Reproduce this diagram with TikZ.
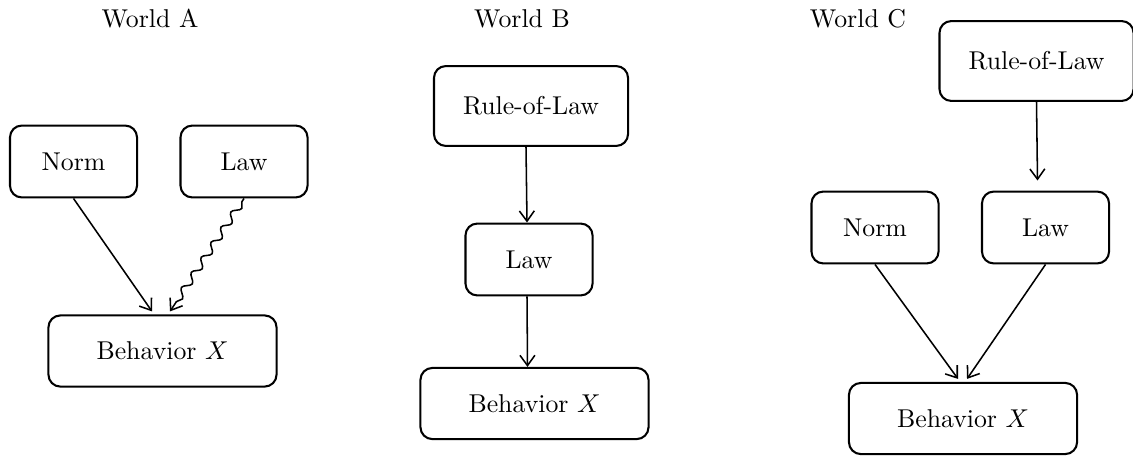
\documentclass[tikz,border=0pt]{standalone}
\usepackage{tikz}
\usetikzlibrary{arrows.meta, positioning, calc, decorations.pathmorphing}
\usepackage{amsmath}

\begin{document}
\begin{tikzpicture}[x=0.388pt,y=0.388pt,yscale=-1,xscale=1,
  box/.style={draw, line width=0.8pt, rounded corners=4.6pt, inner sep=0.75pt},
  smallbox/.style={box, minimum width=49.3pt, minimum height=27.9pt},
  widebox/.style={box, minimum width=88.5pt, minimum height=27.6pt},
  rulebox/.style={box, minimum width=75.3pt, minimum height=31pt},
  conn/.style={line width=0.6pt, -{Straight Barb[length=4pt,width=5.8pt]}},
  wavy/.style={conn, decorate, decoration={snake, amplitude=1.4pt, segment length=7pt, pre length=1.5pt, post length=3pt}}]
\useasboundingbox (0,0) rectangle (1133,455);

% World A
\node (titleA) at (150,19) {World A};
\node[smallbox] (normA) at (73.5,161.5) {Norm};
\node[smallbox] (lawA) at (244,161.5) {Law};
\node[widebox] (behA) at (162.5,351) {Behavior $X$};
%Straight Lines
\draw[conn] (normA.south) -- ($(behA.north)+(-10.5,-3)$);
%Curve Lines
\draw[wavy] (lawA.south) -- ($(behA.north)+(7.5,-3)$);

% World B
\node (titleB) at (522,19) {World B};
\node[rulebox] (ruleB) at (531,106) {Rule-of-Law};
\node[smallbox] (lawB) at (529,259.5) {Law};
\node[widebox] (behB) at (534.5,403.5) {Behavior $X$};
%Straight Lines
\draw[conn] ($(ruleB.south)+(-5,0)$) -- ($(lawB.north)+(-2,0)$);
\draw[conn] ($(lawB.south)+(-2,0)$) -- ($(behB.north)+(-7,0)$);

% World C
\node (titleC) at (858,19) {World C};
\node[rulebox] (ruleC) at (1036.5,61) {Rule-of-Law};
\node[smallbox] (normC) at (875,227.5) {Norm};
\node[smallbox] (lawC) at (1045.5,227.5) {Law};
\node[widebox] (behC) at (963,418.5) {Behavior $X$};
%Straight Lines
\draw[conn] (ruleC.south) -- ($(lawC.north)+(-8,-10)$);
\draw[conn] (normC.south) -- ($(behC.north)+(-5,-3)$);
\draw[conn] (lawC.south) -- ($(behC.north)+(4,-3)$);

\end{tikzpicture}
\end{document}
